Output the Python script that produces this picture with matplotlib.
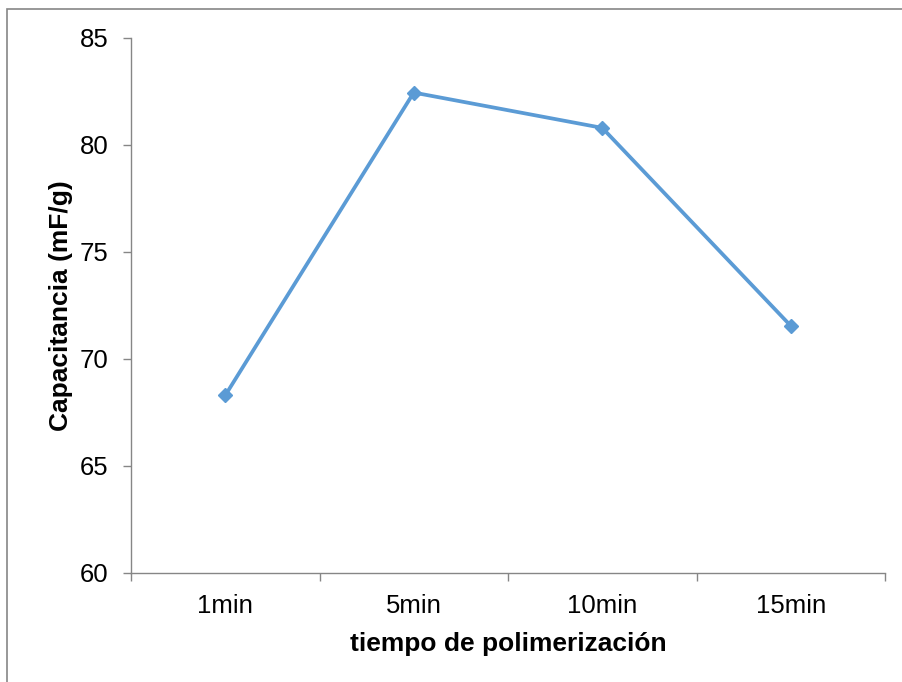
import numpy as np
import matplotlib.pyplot as plt
from matplotlib.patches import Rectangle

plt.rcParams['font.family'] = ['Liberation Sans', 'DejaVu Sans']

categories = ['1min', '5min', '10min', '15min']
capacitancia = [68.3, 82.45, 80.8, 71.55]
yticks = [60, 65, 70, 75, 80, 85]

axis_col = '#868686'
line_col = '#5B9BD5'

fig = plt.figure(figsize=(9.02, 6.82), dpi=100)
ax = fig.add_axes([131/902, 1 - 573/682, (885 - 131)/902, (573 - 38)/682])

x = np.arange(len(categories)) + 0.5
ax.plot(x, capacitancia, color=line_col, lw=2.7, marker='D', ms=7.5,
        mec=line_col, mfc=line_col, clip_on=False)

ax.set_xlim(0, len(categories))
ax.set_ylim(60, 85)
ax.set_yticks(yticks)
ax.set_xticks(np.arange(len(categories) + 1))
ax.set_xticklabels([])
ax.set_xticks(x, minor=True)
ax.set_xticklabels(categories, minor=True)
ax.tick_params(axis='x', which='minor', length=0, pad=15, labelsize=18.5)
ax.tick_params(axis='x', which='major', length=6, color=axis_col, width=1)
ax.tick_params(axis='y', length=6, color=axis_col, width=1, labelsize=18.5, pad=10)

for s in ['top', 'right']:
    ax.spines[s].set_visible(False)
for s in ['left', 'bottom']:
    ax.spines[s].set_color(axis_col)
    ax.spines[s].set_linewidth(1)

ax.set_xlabel('tiempo de polimerización', fontsize=19, fontweight='bold', labelpad=10)
ax.set_ylabel('Capacitancia (mF/g)', fontsize=19, fontweight='bold', labelpad=5)

# outer chart border (right and bottom edges fall outside the picture)
fig.patches.append(Rectangle((7/902, -0.05), 1.0, 1.05 - 9/682, transform=fig.transFigure,
                             fill=False, edgecolor=axis_col, lw=1.2))

fig.savefig('out.png', dpi=100)
